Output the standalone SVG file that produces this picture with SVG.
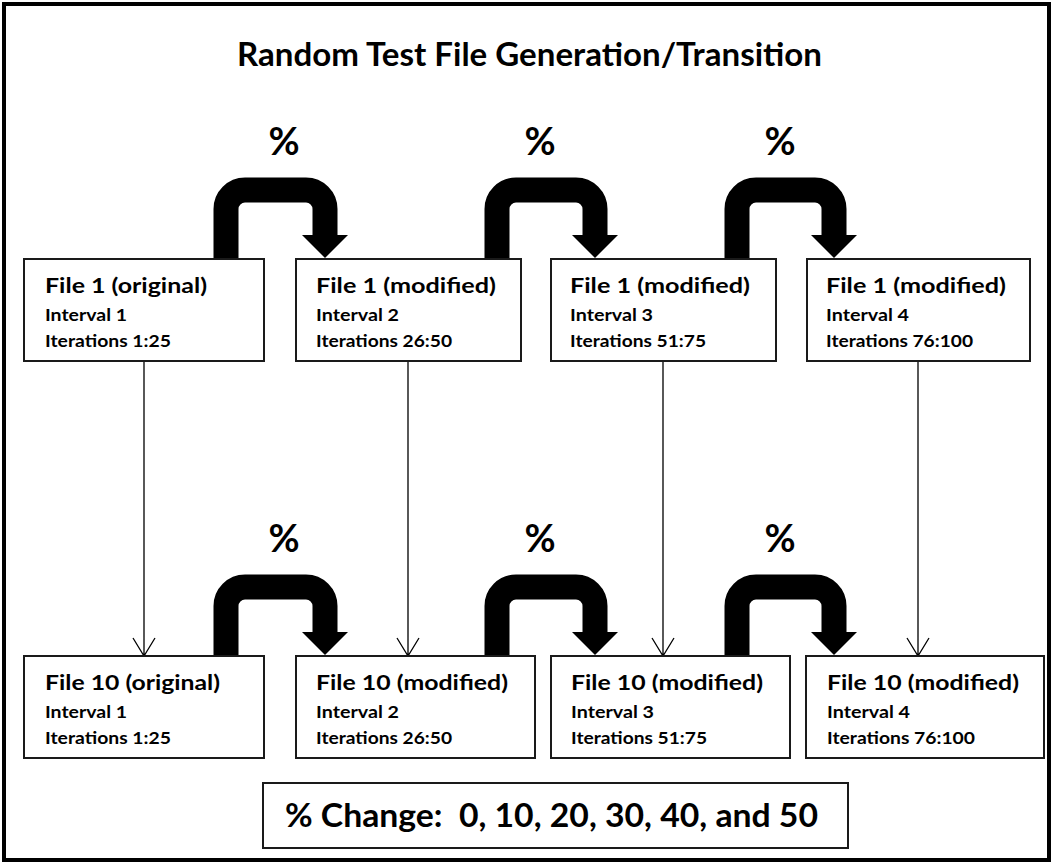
<svg xmlns="http://www.w3.org/2000/svg" width="1051" height="863" viewBox="0 0 1051 863">
<style>
text{font-family:Lato,"Open Sans","Liberation Sans",sans-serif;font-weight:bold;fill:#000}
.box{fill:#fff;stroke:#1a1a1a;stroke-width:2}
.t1{font-size:21px}
.t2{font-size:17px}
.pct{font-size:38px;text-anchor:middle}
.bend{fill:none;stroke:#000;stroke-width:25}
.head{fill:#000}
.thin{fill:none;stroke:#000;stroke-width:1.3}
</style>
<rect x="4" y="4" width="1045" height="856" fill="#fff" stroke="#000" stroke-width="4"/>
<text id="title" x="237" y="66" font-size="33" textLength="585" lengthAdjust="spacingAndGlyphs">Random Test File Generation/Transition</text>

<g id="connectors">
  <g id="vertical">
    <path class="thin" d="M144,361 V656 M133,638 L144,656 L155,638"/>
    <path class="thin" d="M408,361 V656 M397,638 L408,656 L419,638"/>
    <path class="thin" d="M663,361 V656 M652,638 L663,656 L674,638"/>
    <path class="thin" d="M918,361 V656 M907,638 L918,656 L929,638"/>
  </g>
  <g id="bent-top">
    <path class="bend" d="M226,261 V209 A19,19 0 0 1 245,190 H306 A19,19 0 0 1 325,209 V236"/>
    <polygon class="head" points="302,235 348,235 325,258"/>
    <path class="bend" d="M497,261 V209 A19,19 0 0 1 516,190 H576 A19,19 0 0 1 595,209 V236"/>
    <polygon class="head" points="572,235 618,235 595,258"/>
    <path class="bend" d="M737,261 V209 A19,19 0 0 1 756,190 H815 A19,19 0 0 1 834,209 V236"/>
    <polygon class="head" points="811,235 857,235 834,258"/>
  </g>
  <g id="bent-bottom">
    <path class="bend" d="M226,658 V606 A19,19 0 0 1 245,587 H306 A19,19 0 0 1 325,606 V633"/>
    <polygon class="head" points="302,632 348,632 325,655"/>
    <path class="bend" d="M497,658 V606 A19,19 0 0 1 516,587 H576 A19,19 0 0 1 595,606 V633"/>
    <polygon class="head" points="572,632 618,632 595,655"/>
    <path class="bend" d="M737,658 V606 A19,19 0 0 1 756,587 H815 A19,19 0 0 1 834,606 V633"/>
    <polygon class="head" points="811,632 857,632 834,655"/>
  </g>
  <text class="pct" x="284" y="155">%</text>
  <text class="pct" x="540" y="155">%</text>
  <text class="pct" x="780" y="155">%</text>
  <text class="pct" x="284" y="552">%</text>
  <text class="pct" x="540" y="552">%</text>
  <text class="pct" x="780" y="552">%</text>
</g>

<g id="top1">
  <rect class="box" x="24" y="259" width="240" height="102"/>
  <text class="t1" x="45" y="293" textLength="162" lengthAdjust="spacingAndGlyphs">File 1 (original)</text>
  <text class="t2" x="45" y="321" textLength="82" lengthAdjust="spacingAndGlyphs">Interval 1</text>
  <text class="t2" x="45" y="347" textLength="126" lengthAdjust="spacingAndGlyphs">Iterations 1:25</text>
</g>
<g id="top2">
  <rect class="box" x="296" y="259" width="225" height="102"/>
  <text class="t1" x="316" y="293" textLength="180" lengthAdjust="spacingAndGlyphs">File 1 (modified)</text>
  <text class="t2" x="316" y="321" textLength="83" lengthAdjust="spacingAndGlyphs">Interval 2</text>
  <text class="t2" x="316" y="347" textLength="136" lengthAdjust="spacingAndGlyphs">Iterations 26:50</text>
</g>
<g id="top3">
  <rect class="box" x="551" y="259" width="225" height="102"/>
  <text class="t1" x="570" y="293" textLength="180" lengthAdjust="spacingAndGlyphs">File 1 (modified)</text>
  <text class="t2" x="570" y="321" textLength="83" lengthAdjust="spacingAndGlyphs">Interval 3</text>
  <text class="t2" x="570" y="347" textLength="136" lengthAdjust="spacingAndGlyphs">Iterations 51:75</text>
</g>
<g id="top4">
  <rect class="box" x="807" y="259" width="223" height="102"/>
  <text class="t1" x="826" y="293" textLength="180" lengthAdjust="spacingAndGlyphs">File 1 (modified)</text>
  <text class="t2" x="826" y="321" textLength="83" lengthAdjust="spacingAndGlyphs">Interval 4</text>
  <text class="t2" x="826" y="347" textLength="147" lengthAdjust="spacingAndGlyphs">Iterations 76:100</text>
</g>

<g id="bot1">
  <rect class="box" x="24" y="656" width="240" height="102"/>
  <text class="t1" x="45" y="690" textLength="175" lengthAdjust="spacingAndGlyphs">File 10 (original)</text>
  <text class="t2" x="45" y="718" textLength="82" lengthAdjust="spacingAndGlyphs">Interval 1</text>
  <text class="t2" x="45" y="744" textLength="126" lengthAdjust="spacingAndGlyphs">Iterations 1:25</text>
</g>
<g id="bot2">
  <rect class="box" x="296" y="656" width="239" height="102"/>
  <text class="t1" x="316" y="690" textLength="192" lengthAdjust="spacingAndGlyphs">File 10 (modified)</text>
  <text class="t2" x="316" y="718" textLength="83" lengthAdjust="spacingAndGlyphs">Interval 2</text>
  <text class="t2" x="316" y="744" textLength="136" lengthAdjust="spacingAndGlyphs">Iterations 26:50</text>
</g>
<g id="bot3">
  <rect class="box" x="551" y="656" width="239" height="102"/>
  <text class="t1" x="571" y="690" textLength="192" lengthAdjust="spacingAndGlyphs">File 10 (modified)</text>
  <text class="t2" x="571" y="718" textLength="83" lengthAdjust="spacingAndGlyphs">Interval 3</text>
  <text class="t2" x="571" y="744" textLength="136" lengthAdjust="spacingAndGlyphs">Iterations 51:75</text>
</g>
<g id="bot4">
  <rect class="box" x="806" y="656" width="238" height="102"/>
  <text class="t1" x="827" y="690" textLength="192" lengthAdjust="spacingAndGlyphs">File 10 (modified)</text>
  <text class="t2" x="827" y="718" textLength="83" lengthAdjust="spacingAndGlyphs">Interval 4</text>
  <text class="t2" x="827" y="744" textLength="148" lengthAdjust="spacingAndGlyphs">Iterations 76:100</text>
</g>

<g id="summary">
  <rect class="box" x="263" y="783" width="585" height="65"/>
  <text x="285" y="827" font-size="33" xml:space="preserve" textLength="533" lengthAdjust="spacingAndGlyphs">% Change:  0, 10, 20, 30, 40, and 50</text>
</g>
</svg>
